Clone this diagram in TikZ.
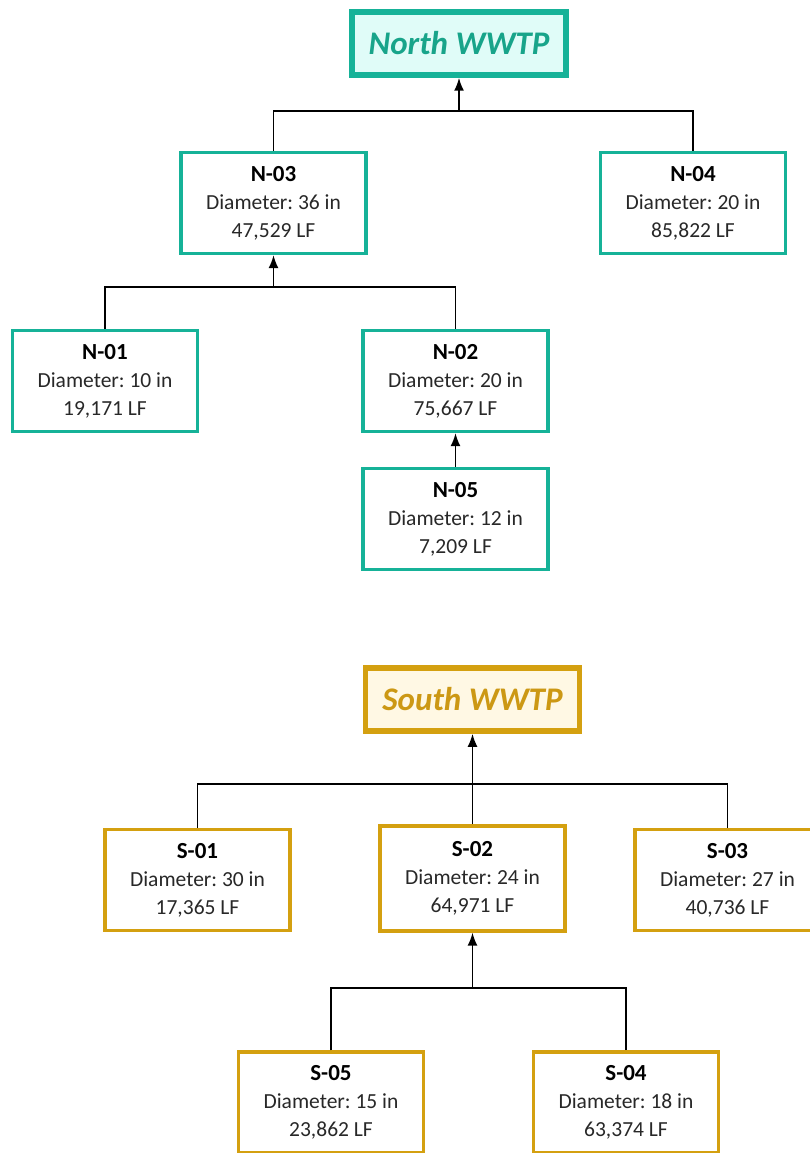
\documentclass[tikz,border=0pt]{standalone}
\usepackage{fontspec}
\setmainfont{Carlito}
\usepackage{tikz}
\usetikzlibrary{arrows.meta}

\definecolor{tealline}{RGB}{22,178,152}
\definecolor{tealfill}{RGB}{224,252,248}
\definecolor{tealtext}{RGB}{24,164,138}
\definecolor{goldline}{RGB}{212,160,16}
\definecolor{goldfill}{RGB}{255,248,228}
\definecolor{goldtext}{RGB}{204,152,20}
\definecolor{bodytext}{RGB}{40,40,40}

\frenchspacing

\tikzset{
    pipe/.style={draw, line width=3.2pt, fill=white, minimum width=185pt,
        minimum height=101pt, align=center, text=bodytext,
        font=\fontsize{21.5}{28}\selectfont},
    northpipe/.style={pipe, draw=tealline},
    southpipe/.style={pipe, draw=goldline},
    plant/.style={draw, line width=5.5pt, minimum width=214pt,
        minimum height=63pt, font=\fontsize{33}{38}\selectfont\bfseries\itshape},
    link/.style={line width=1.8pt, black},
    flow/.style={link, -{Latex[length=13pt,width=10pt]}}
}

\newcommand{\pipeinfo}[3]{{\fontsize{23}{28}\selectfont\bfseries\color{black}#1}\\Diameter: #2 in\\#3 LF}

\begin{document}
\begin{tikzpicture}[x=1pt, y=-1pt]
    \useasboundingbox (0,0) rectangle (810,1153);

    % North treatment plant and its pipes
    \node[plant, draw=tealline, fill=tealfill, text=tealtext] (north) at (459,43.5) {North WWTP};
    \node[northpipe] (n03) at (273.5,203) {\pipeinfo{N-03}{36}{47,529}};
    \node[northpipe] (n04) at (693,203) {\pipeinfo{N-04}{20}{85,822}};
    \node[northpipe] (n01) at (105,381) {\pipeinfo{N-01}{10}{19,171}};
    \node[northpipe] (n02) at (455.5,381) {\pipeinfo{N-02}{20}{75,667}};
    \node[northpipe] (n05) at (455.5,519) {\pipeinfo{N-05}{12}{7,209}};

    % North connections
    \coordinate (nbar) at (459,111);
    \draw[link] (n03.north) |- (nbar) -| (n04.north);
    \draw[flow] (nbar) -- (north.south);

    \coordinate (nsplit) at (273.5,287);
    \draw[link] (n01.north) |- (nsplit) -| (n02.north);
    \draw[flow] (nsplit) -- (n03.south);

    \draw[flow] (n05.north) -- (n02.south);

    % South treatment plant and its pipes
    \node[plant, draw=goldline, fill=goldfill, text=goldtext] (south) at (472.5,699.5) {South WWTP};
    \node[southpipe] (s01) at (197.5,880) {\pipeinfo{S-01}{30}{17,365}};
    \node[southpipe, minimum height=105pt] (s02) at (472.5,878.5) {\pipeinfo{S-02}{24}{64,971}};
    \node[southpipe] (s03) at (727.5,880) {\pipeinfo{S-03}{27}{40,736}};
    \node[southpipe] (s05) at (331,1102.5) {\pipeinfo{S-05}{15}{23,862}};
    \node[southpipe] (s04) at (626,1102.5) {\pipeinfo{S-04}{18}{63,374}};

    % South connections
    \coordinate (sbar) at (472.5,784);
    \draw[link] (s01.north) |- (sbar) -| (s03.north);
    \draw[flow] (s02.north) -- (south.south);

    \coordinate (ssplit) at (472.5,988);
    \draw[link] (s05.north) |- (ssplit) -| (s04.north);
    \draw[flow] (ssplit) -- (s02.south);
\end{tikzpicture}
\end{document}
